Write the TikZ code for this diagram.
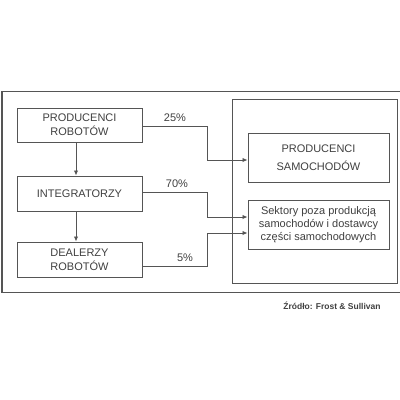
\documentclass[tikz,border=0pt]{standalone}
\usepackage{fontspec}
\setmainfont{Liberation Sans}
\usetikzlibrary{arrows.meta}
\definecolor{ln}{HTML}{555555}
\definecolor{tx}{HTML}{404040}
\begin{document}
\begin{tikzpicture}[x=1pt,y=-1pt,
  boxs/.style={draw=ln,line width=1pt,inner sep=0pt,text=tx,font=\fontsize{11}{14}\selectfont,align=center},
  conn/.style={draw=ln,line width=0.9pt},
  arr/.style={conn,-{Latex[length=5pt,width=4.5pt]}},
  pct/.style={text=tx,font=\fontsize{11}{12}\selectfont,inner sep=0pt}]
\useasboundingbox[fill=white] (0,0) rectangle (400,400);
\draw[ln,line width=1pt] (410,91) -- (2,91) -- (2,292) -- (410,292);
\draw[ln,line width=1pt] (232,99) rectangle (397,283);
\node[boxs,minimum width=125,minimum height=34] (pr) at (79.5,125) {PRODUCENCI\\ROBOTÓW};
\node[boxs,minimum width=125,minimum height=35] (in) at (79.5,193.5) {INTEGRATORZY};
\node[boxs,minimum width=125,minimum height=35] (de) at (79.5,259.5) {DEALERZY\\ROBOTÓW};
\node[boxs,minimum width=141,minimum height=49,font=\fontsize{11}{18}\selectfont] (ps) at (318.5,157.5) {PRODUCENCI\\SAMOCHODÓW};
\node[boxs,minimum width=141,minimum height=49,font=\fontsize{11}{13}\selectfont] (se) at (318.5,224.5) {Sektory poza produkcją\\samochodów i dostawcy\\części samochodowych};
\draw[arr] (pr.south -| 76,0) -- (in.north -| 76,0);
\draw[arr] (in.south -| 76,0) -- (de.north -| 76,0);
\coordinate (a1) at (207,126);
\coordinate (a2) at (207,160);
\coordinate (b1) at (207,192);
\coordinate (b2) at (207,217);
\coordinate (c1) at (207,266);
\coordinate (c2) at (207,233);
\draw[arr] (pr.east |- a1) -- (a1) -- (a2) -- (ps.west |- a2);
\draw[arr] (in.east |- b1) -- (b1) -- (b2) -- (se.west |- b2);
\draw[arr] (de.east |- c1) -- (c1) -- (c2) -- (se.west |- c2);
\node[pct] (p25) at (175,118) {25\%};
\node[pct] (p70) at (177,184) {70\%};
\node[pct] (p5) at (185,258) {5\%};
\node[text=tx,font=\bfseries\fontsize{8.5}{10}\selectfont,inner sep=0pt] (src) at (332,306) {Źródło: Frost \& Sullivan};
\end{tikzpicture}
\end{document}
